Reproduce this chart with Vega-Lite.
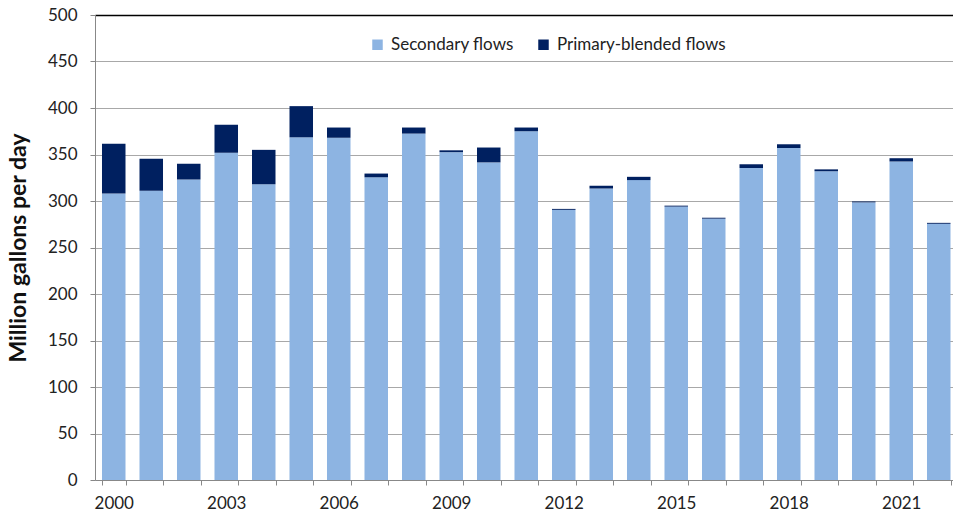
{
  "$schema": "https://vega.github.io/schema/vega-lite/v6.json",
  "width": 858,
  "height": 465,
  "autosize": {"type": "none"},
  "padding": {"left": 95, "top": 15, "right": 0, "bottom": 35},
  "background": "white",
  "config": {
    "view": {"stroke": null},
    "font": "Lato",
    "axis": {"labelColor": "#222222", "titleColor": "#111111"},
    "legend": {"labelColor": "#222222"}
  },
  "data": {
    "values": [
      {"year": 2000, "Secondary flows": 308, "Primary-blended flows": 53.5},
      {"year": 2001, "Secondary flows": 311, "Primary-blended flows": 34.5},
      {"year": 2002, "Secondary flows": 323, "Primary-blended flows": 17},
      {"year": 2003, "Secondary flows": 352, "Primary-blended flows": 30},
      {"year": 2004, "Secondary flows": 318, "Primary-blended flows": 37},
      {"year": 2005, "Secondary flows": 368.5, "Primary-blended flows": 33.5},
      {"year": 2006, "Secondary flows": 368, "Primary-blended flows": 11},
      {"year": 2007, "Secondary flows": 325.5, "Primary-blended flows": 4},
      {"year": 2008, "Secondary flows": 372.5, "Primary-blended flows": 6.5},
      {"year": 2009, "Secondary flows": 352.5, "Primary-blended flows": 2},
      {"year": 2010, "Secondary flows": 341.5, "Primary-blended flows": 16},
      {"year": 2011, "Secondary flows": 375, "Primary-blended flows": 4},
      {"year": 2012, "Secondary flows": 290.5, "Primary-blended flows": 1},
      {"year": 2013, "Secondary flows": 313.5, "Primary-blended flows": 3},
      {"year": 2014, "Secondary flows": 322.5, "Primary-blended flows": 3.5},
      {"year": 2015, "Secondary flows": 294, "Primary-blended flows": 1},
      {"year": 2016, "Secondary flows": 281, "Primary-blended flows": 1},
      {"year": 2017, "Secondary flows": 335.5, "Primary-blended flows": 4},
      {"year": 2018, "Secondary flows": 357, "Primary-blended flows": 4},
      {"year": 2019, "Secondary flows": 332, "Primary-blended flows": 2},
      {"year": 2020, "Secondary flows": 298.5, "Primary-blended flows": 1},
      {"year": 2021, "Secondary flows": 342.5, "Primary-blended flows": 3.5},
      {"year": 2022, "Secondary flows": 275.5, "Primary-blended flows": 1}
    ]
  },
  "transform": [
    {"fold": ["Secondary flows", "Primary-blended flows"], "as": ["flow", "mgd"]}
  ],
  "mark": {"type": "bar"},
  "encoding": {
    "x": {
      "field": "year",
      "type": "ordinal",
      "scale": {"paddingInner": 0.373, "paddingOuter": 0.1265, "align": 0.737},
      "axis": {
        "title": null,
        "labelAngle": 0,
        "labelFontSize": 17,
        "labelPadding": 10,
        "labelExpr": "(+datum.value - 2000) % 3 === 0 ? datum.label : ''",
        "tickBand": "extent",
        "tickSize": 5,
        "tickColor": "#888888",
        "domainColor": "#888888",
        "labelOverlap": false
      }
    },
    "y": {
      "field": "mgd",
      "type": "quantitative",
      "stack": "zero",
      "scale": {"domain": [0, 500], "nice": false},
      "axis": {
        "title": "Million gallons per day",
        "titleFontSize": 23,
        "titleFontWeight": "bold",
        "titlePadding": 17,
        "values": [0, 50, 100, 150, 200, 250, 300, 350, 400, 450, 500],
        "labelFontSize": 17,
        "labelPadding": 13,
        "tickSize": 5,
        "tickColor": "#888888",
        "domainColor": "#888888",
        "gridColor": {"condition": {"test": "datum.value === 500", "value": "#000000"}, "value": "#a8a8a8"},
        "gridWidth": {"condition": {"test": "datum.value === 500", "value": 1.5}, "value": 1}
      }
    },
    "color": {
      "field": "flow",
      "type": "nominal",
      "scale": {
        "domain": ["Secondary flows", "Primary-blended flows"],
        "range": ["#8db4e2", "#002060"]
      },
      "legend": {
        "title": null,
        "orient": "none",
        "direction": "horizontal",
        "legendX": 274,
        "legendY": 21,
        "symbolType": "square",
        "symbolSize": 110,
        "symbolStrokeWidth": 0,
        "labelFontSize": 17,
        "labelLimit": 400,
        "labelOffset": 5,
        "columnPadding": 21
      }
    },
    "order": {"field": "flow", "sort": "descending"}
  }
}
